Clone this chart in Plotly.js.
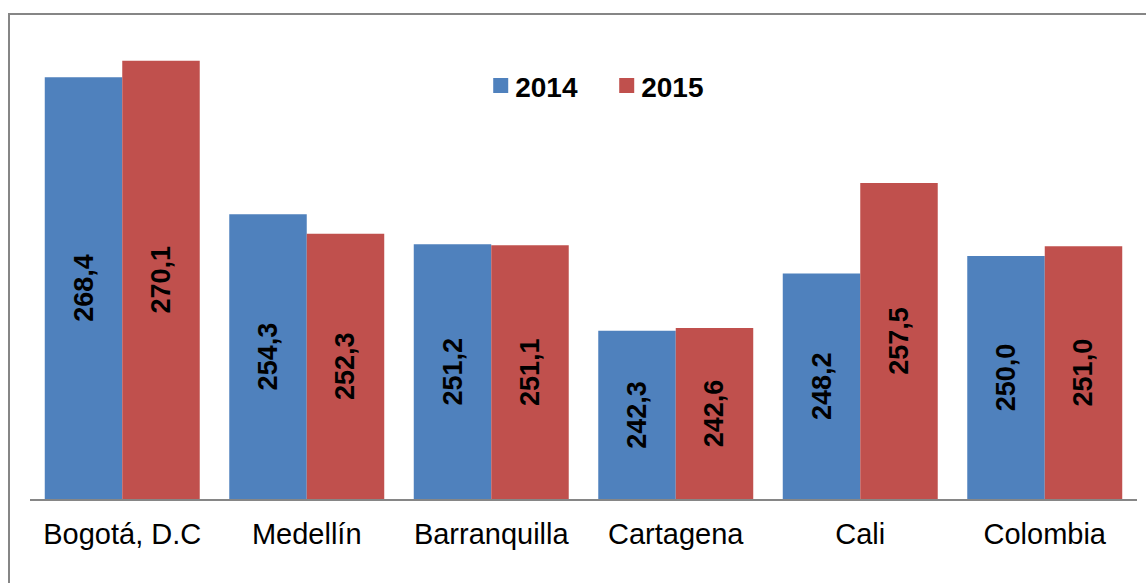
<!DOCTYPE html>
<html>
<head>
<meta charset="utf-8">
<script src="https://cdn.plot.ly/plotly-3.0.1.min.js"></script>
<style>
  html, body { margin: 0; padding: 0; background: #fff; }
  #wrap { position: relative; width: 1146px; height: 583px; overflow: hidden; }
  #chart { width: 1146px; height: 583px; }
  #frame { position: absolute; left: 8px; top: 13px; width: 1200px; height: 700px;
           border-left: 2px solid #868686; border-top: 2px solid #868686; pointer-events: none; }
</style>
</head>
<body>
<div id="wrap">
  <div id="chart"></div>
  <div id="frame"></div>
</div>
<script>
const categories = ["Bogotá, D.C", "Medellín", "Barranquilla", "Cartagena", "Cali", "Colombia"];
const values2014 = [268.4, 254.3, 251.2, 242.3, 248.2, 250.0];
const values2015 = [270.1, 252.3, 251.1, 242.6, 257.5, 251.0];
const seriesNames = ["2014", "2015"];
const axisMin = 225;
const axisMax = 275;

const fontFam = "Liberation Sans, Arial, sans-serif";
const labelFont = { family: fontFam, size: 27, color: "#000", weight: "bold" };

function fmt(v) { return v.toFixed(1).replace(".", ","); }

function mk(name, vals, color) {
  return {
    type: "bar",
    name: name,
    x: categories,
    base: vals.map(() => axisMin),
    y: vals.map(v => v - axisMin),
    text: vals.map(v => "<b>" + fmt(v) + "</b>"),
    texttemplate: "%{text}",
    textposition: "inside",
    insidetextanchor: "middle",
    textangle: -90,
    textfont: labelFont,
    constraintext: "none",
    marker: { color: color },
    hoverinfo: "skip"
  };
}

const data = [
  mk(seriesNames[0], values2014, "#4F81BD"),
  mk(seriesNames[1], values2015, "#C0504D")
];

const layout = {
  width: 1146,
  height: 583,
  margin: { l: 30, r: 9, t: 13, b: 84 },
  paper_bgcolor: "#fff",
  plot_bgcolor: "#fff",
  barmode: "group",
  bargap: 0.16,
  bargroupgap: 0,
  showlegend: true,
  legend: {
    orientation: "h",
    x: 0.516, xanchor: "center",
    y: 0.85, yanchor: "middle",
    font: { family: fontFam, size: 28, color: "#000", weight: "bold" },
    bgcolor: "rgba(0,0,0,0)",
    itemwidth: 30,
    entrywidth: 81,
    traceorder: "normal"
  },
  xaxis: {
    showline: true,
    linecolor: "#868686",
    linewidth: 1.5,
    ticks: "",
    showgrid: false,
    zeroline: false,
    tickfont: { family: fontFam, size: 29, color: "#000" },
    ticklabelstandoff: 9
  },
  yaxis: {
    range: [axisMin, axisMax],
    visible: false,
    showgrid: false,
    zeroline: false,
    fixedrange: true
  }
};

Plotly.newPlot("chart", data, layout, { displayModeBar: false, staticPlot: true }).then(gd => {
  // enlarge legend swatches to match the reference's square markers
  gd.querySelectorAll(".legendpoints path").forEach(p => {
    p.setAttribute("d", "M13,7.5H-2V-7.5H13Z");
  });
});
</script>
</body>
</html>
